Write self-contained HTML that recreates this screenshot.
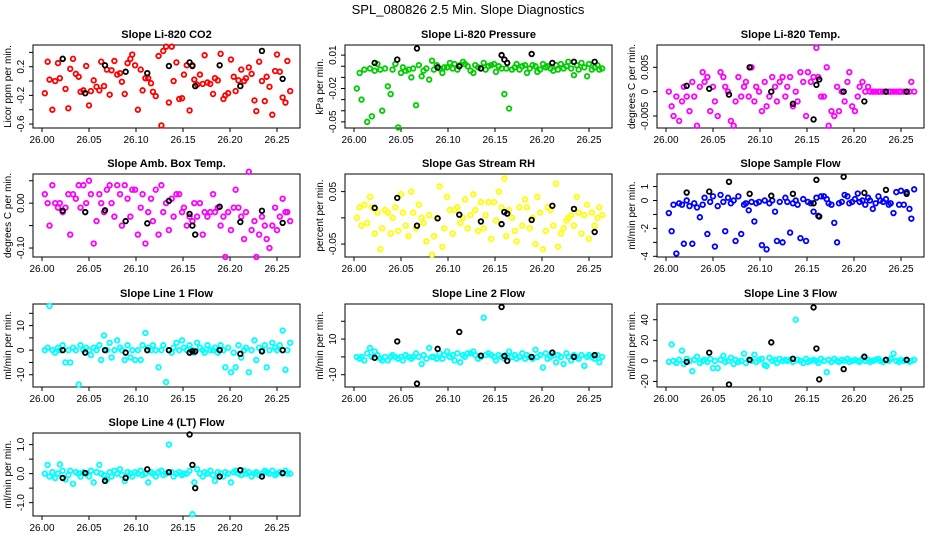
<!DOCTYPE html>
<html><head><meta charset="utf-8">
<style>
html,body{margin:0;padding:0;background:#fff;}
svg{display:block;font-family:"Liberation Sans",sans-serif;}
</style></head>
<body>
<svg id="chart" width="936" height="540" viewBox="0 0 936 540" xmlns="http://www.w3.org/2000/svg">
<rect width="936" height="540" fill="#fff"/>
<text x="468" y="14" text-anchor="middle" font-size="13">SPL_080826  2.5 Min. Slope Diagnostics</text>
</svg>
<script>
const times=[26.003,26.006,26.008,26.011,26.014,26.017,26.019,26.022,26.025,26.028,
26.030,26.033,26.036,26.039,26.041,26.044,26.047,26.050,26.052,26.055,
26.058,26.061,26.063,26.066,26.069,26.072,26.074,26.077,26.080,26.083,
26.085,26.088,26.091,26.094,26.096,26.099,26.102,26.105,26.107,26.110,
26.113,26.116,26.118,26.121,26.124,26.127,26.129,26.132,26.135,26.138,
26.140,26.143,26.146,26.149,26.151,26.154,26.157,26.160,26.162,26.165,
26.168,26.171,26.173,26.176,26.179,26.182,26.184,26.187,26.190,26.193,
26.195,26.198,26.201,26.204,26.206,26.209,26.212,26.215,26.217,26.220,
26.223,26.226,26.228,26.231,26.234,26.237,26.239,26.242,26.245,26.248,
26.250,26.253,26.256,26.259,26.261,26.264];
const blackTimes=[26.022,26.046,26.067,26.089,26.112,26.135,26.157,26.160,26.163,26.189,26.211,26.234,26.256];
const xTicks=[26.00,26.05,26.10,26.15,26.20,26.25];
const xTickLabels=["26.00","26.05","26.10","26.15","26.20","26.25"];

const co2=[-0.17,0.27,0.02,-0.4,0.0,0.25,0.04,0.31,-0.11,-0.38,0.17,0.31,0.1,0.06,-0.15,-0.13,0.21,-0.34,-0.14,0.01,-0.08,-0.13,0.27,-0.07,0.16,-0.19,0.15,0.28,0.09,0.11,-0.01,-0.18,0.25,0.31,0.37,0.22,-0.4,0.16,-0.13,0.04,0.04,-0.03,-0.15,-0.21,0.35,-0.62,0.42,0.48,-0.3,0.48,0.0,0.26,-0.25,-0.24,0.09,0.22,-0.41,0.22,0.02,-0.05,0.09,-0.04,0.36,-0.02,-0.04,-0.18,0.04,0.01,0.38,-0.25,-0.2,-0.17,0.3,0.06,-0.14,0.01,0.16,0.0,0.04,0.19,0.1,-0.27,-0.42,0.27,0.0,-0.28,0.06,-0.08,-0.47,0.14,0.37,0.13,-0.23,-0.3,0.28,-0.14];
const co2Black=[0.31,-0.17,0.22,0.13,0.11,0.21,0.26,0.21,-0.07,0.22,-0.07,0.42,0.03];
const pressure=[-0.02,-0.006,-0.03,-0.003,-0.05,-0.002,-0.045,-0.004,0.002,-0.003,-0.04,-0.002,-0.018,-0.025,-0.003,0.002,-0.055,-0.006,-0.001,-0.004,-0.003,-0.01,-0.002,-0.035,0.001,-0.009,-0.004,-0.002,-0.012,0.005,-0.003,0.001,-0.002,-0.006,-0.001,-0.001,0.003,-0.002,0.002,-0.003,0.001,0.004,0.002,0.0,-0.004,-0.006,0.001,-0.001,-0.002,0.003,-0.003,0.0,0.001,0.002,-0.005,0.0,-0.002,-0.025,-0.002,-0.038,-0.003,-0.001,0.002,-0.003,0.0,0.001,-0.006,-0.002,0.001,0.0,-0.005,-0.003,0.002,-0.001,0.0,-0.002,-0.004,0.001,-0.003,0.002,-0.002,0.0,0.004,-0.002,-0.008,0.001,-0.003,0.003,-0.001,-0.009,0.002,-0.003,-0.001,0.001,-0.003,-0.002];
const pressureBlack=[0.003,0.006,0.016,-0.001,0.0,-0.002,0.01,0.006,0.003,0.011,0.003,0.004,0.004];
const licorTemp=[0.0,-0.003,-0.005,-0.001,-0.006,-0.002,0.001,-0.001,-0.004,0.002,-0.001,-0.007,0.001,0.004,0.002,0.003,-0.004,0.001,-0.002,-0.005,0.004,0.003,0.001,0.0,-0.006,-0.007,-0.002,0.003,-0.001,0.001,0.002,-0.001,0.005,-0.002,0.001,0.0,-0.004,0.002,-0.003,-0.001,0.003,0.001,-0.002,0.002,0.003,-0.001,0.001,0.003,-0.003,0.0,-0.002,0.004,0.002,-0.005,0.004,0.002,0.003,0.009,0.003,-0.001,-0.001,0.005,-0.007,-0.004,-0.005,0.001,-0.004,0.0,-0.002,0.002,0.004,-0.003,-0.004,-0.001,0.001,0.002,0.0,0.001,0.0,0.0,0.0,0.0,0.0,0.0,0.0,0.0,0.0,0.0,0.0,0.0,0.0,0.0,0.0,0.0,0.002,0.0];
const licorTempBlack=[0.0012,0.0006,-0.0006,0.005,0.0,-0.0025,-0.0057,0.0014,0.0025,0.0,-0.002,0.0,0.0];
const boxTemp=[0.02,0.0,-0.05,0.04,0.0,-0.01,0.0,-0.02,-0.01,0.02,-0.07,0.02,0.01,0.04,-0.01,0.04,0.0,0.05,0.02,-0.09,-0.04,0.02,0.0,-0.02,0.03,0.04,0.0,-0.03,0.04,0.02,-0.05,0.04,0.01,-0.03,0.03,0.03,-0.07,-0.01,0.02,-0.09,-0.02,0.01,-0.04,0.03,-0.07,0.04,-0.02,0.0,-0.06,0.01,-0.03,0.02,0.02,-0.02,-0.01,-0.05,-0.03,-0.04,0.0,-0.03,0.0,-0.07,-0.02,-0.03,-0.02,0.02,-0.02,-0.01,-0.05,-0.03,-0.12,-0.02,-0.06,-0.01,0.03,-0.01,-0.03,-0.08,-0.02,0.07,-0.06,-0.04,-0.12,-0.07,-0.03,-0.05,-0.08,-0.1,-0.05,-0.01,-0.06,-0.03,0.01,-0.02,-0.02,-0.04];
const boxTempBlack=[-0.017,-0.02,-0.016,-0.04,-0.045,0.005,-0.024,-0.05,-0.07,-0.008,-0.042,-0.017,-0.044];
const gasRH=[0.0,0.02,-0.015,0.025,-0.01,0.04,0.02,-0.03,0.01,-0.06,-0.02,0.015,0.01,-0.03,0.0,0.02,-0.025,0.045,0.01,-0.015,-0.035,0.05,0.01,-0.02,0.025,0.0,-0.01,-0.045,0.005,-0.07,-0.035,0.0,0.06,-0.055,-0.02,0.04,0.015,-0.03,0.015,0.02,-0.01,0.0,0.035,-0.02,0.005,0.045,0.015,-0.025,0.03,-0.02,0.005,0.03,-0.04,0.03,-0.005,0.05,0.02,0.075,-0.035,0.015,0.0,-0.025,-0.045,0.02,-0.015,0.035,0.02,-0.02,0.0,-0.05,0.04,0.01,-0.06,-0.025,0.02,0.015,-0.015,0.065,-0.055,-0.03,-0.02,-0.005,0.0,0.005,-0.015,0.04,0.01,-0.03,0.005,0.025,-0.04,0.01,-0.015,0.0,0.02,0.005];
const gasRHBlack=[0.019,0.038,-0.015,-0.001,0.006,-0.007,-0.012,0.011,0.008,-0.004,0.023,0.017,-0.027];
const sampleFlow=[-0.9,-2.2,-0.3,-3.8,-0.2,-0.3,-3.1,0.0,-0.4,-3.1,-0.2,-0.5,-1.2,-0.3,0.2,-2.4,-0.1,0.3,-3.3,-0.4,0.4,-0.1,-2.2,0.2,-0.2,0.0,-2.9,0.3,-2.4,-0.3,-0.2,-0.7,-0.1,-1.5,-0.2,-0.1,-3.2,0.0,-3.5,-0.2,0.0,-0.8,-2.9,-0.1,-3.0,0.2,-0.1,-2.3,-0.2,0.0,-0.3,-2.7,0.1,-2.9,-0.1,-0.2,-0.8,0.2,-1.1,0.3,0.3,0.1,-0.2,-0.3,-1.6,-3.0,-0.2,-0.1,0.4,0.3,-0.2,-0.1,0.1,0.5,-0.1,0.0,-0.3,0.2,0.0,-0.6,-0.2,0.3,0.0,-0.1,0.1,-0.3,-0.2,-0.9,0.6,-0.3,0.7,-0.3,0.6,-0.6,-1.3,0.8];
const sampleFlowBlack=[0.57,0.64,1.34,0.48,0.34,0.48,-0.2,1.48,-1.15,1.7,0.55,0.76,0.48];
const line1=[0,1,18,0,-1,1,0,2,-5,0,-5,1,0,-14,2,0,1,0,-2,1,0,2,-4,6,0,3,-3,0,4,1,0,-4,2,-3,0,-4,0,-4,2,7,1,0,2,0,-7,0,2,-13,0,-1,1,3,0,4,1,0,2,0,-1,3,1,0,-1,2,0,0,1,-1,2,0,-7,1,-9,-1,-7,2,-3,0,1,-9,0,4,-4,1,0,2,-7,0,3,1,0,2,8,-8,0,3];
const line1Black=[0,-1,0,-1,0,0,-1,-0.5,-0.5,0,-1.5,-0.5,0];
const line2=[0,-1,0,-2,2,5,0,3,1,-1,-2,0,-2,0,1,0,-1,0,-2,1,0,-1,0,2,0,-4,1,-1,5,0,0,-1,2,-1,1,3,0,1,-2,2,-3,1,0,2,2,3,1,-1,0,22,1,2,1,0,-2,1,0,-1,1,3,0,1,-1,0,2,-1,1,0,-1,4,0,1,-6,2,-1,0,1,-3,1,0,-4,2,0,-2,1,0,-1,1,-5,0,1,0,-1,1,-3,0];
const line2Black=[-0.5,8.7,-15,4.5,14,0.7,28,0.5,-2.2,0,2.4,0,1];
const line3=[-1,16,0,-2,1,10,-3,2,0,-10,1,4,-2,0,1,-1,2,-7,0,-7,1,5,-1,0,3,-3,1,-1,0,7,-2,1,0,6,-1,1,2,-4,-5,3,0,1,-2,2,0,1,0,1,-1,40,1,0,-2,2,-1,0,1,0,-2,2,0,-11,1,-1,2,0,-1,1,0,2,-1,0,1,0,-1,2,0,1,-1,0,1,2,0,-1,1,0,2,7,0,-1,1,0,1,-1,0,1];
const line3Black=[-1,8,-23,1,18,2,52,12,-18,-8,4,1,1];
const line4=[0.0,0.3,-0.1,0.05,-0.15,0.0,0.32,0.1,-0.2,-0.05,0.1,-0.35,0.05,0.0,-0.1,0.05,0.0,-0.1,0.1,-0.3,0.05,0.3,0.0,-0.05,-0.2,0.05,-0.1,0.1,0.0,0.15,-0.05,-0.25,0.05,0.0,-0.1,0.05,0.0,0.1,-0.05,0.0,-0.3,0.05,0.0,-0.1,0.05,0.1,-0.05,0.0,1.0,0.05,-0.1,0.0,0.05,-0.05,0.0,0.0,0.1,-1.4,-0.3,0.15,0.0,-0.1,0.05,0.0,0.1,-0.05,-0.25,0.05,0.0,-0.1,0.05,0.0,-0.3,0.05,0.1,0.0,-0.05,0.1,0.0,0.05,-0.1,0.0,0.05,-0.05,0.0,0.1,0.05,0.0,0.1,-0.05,0.0,0.05,0.0,0.1,0.0,0.0];
const line4Black=[-0.15,0.02,-0.25,-0.15,0.15,0.05,1.35,0.3,-0.5,-0.1,0.12,-0.1,0.02];

const panelTitles=["Slope Li-820 CO2","Slope Li-820 Pressure","Slope Li-820 Temp.","Slope Amb. Box Temp.","Slope Gas Stream RH","Slope Sample Flow","Slope Line 1 Flow","Slope Line 2 Flow","Slope Line 3 Flow","Slope Line 4 (LT) Flow"];
const yTitles=["Licor ppm per min.","kPa per min.","degrees C per min.","degrees C per min.","percent per min.","ml/min per min.","ml/min per min.","ml/min per min.","ml/min per min.","ml/min per min."];
const yTicks=[[0.4,0.2,0,-0.2,-0.4,-0.6],[0.01,0,-0.01,-0.02,-0.03,-0.04,-0.05],[0.005,0,-0.005],[0.05,0,-0.05,-0.1],[0.05,0,-0.05],[1,0,-1,-2,-3,-4],[15,10,5,0,-5,-10],[20,10,0,-10],[40,20,0,-20],[1,0.5,0,-0.5,-1]];
const yTickLabels=[["","0.2","","-0.2","","-0.6"],["0.01","","","-0.02","","","-0.05"],["0.005","0","-0.005"],["","0.00","","-0.10"],["0.05","","-0.05"],["1","0","","-2","","-4"],["","10","","0","","-10"],["","10","","-10"],["40","20","0","-20"],["1.0","","0.0","","-1.0"]];
const yLimits=[[-0.655,0.503],[-0.0555,0.0191],[-0.00746,0.00958],[-0.12,0.065],[-0.0747,0.0836],[-4.05,1.9],[-15,18.8],[-16.9,29.7],[-25.4,55.3],[-1.46,1.40]];
const seriesValues=[co2,pressure,licorTemp,boxTemp,gasRH,sampleFlow,line1,line2,line3,line4];
const blackValues=[co2Black,pressureBlack,licorTempBlack,boxTempBlack,gasRHBlack,sampleFlowBlack,line1Black,line2Black,line3Black,line4Black];
const seriesColors=["#ff0000","#00cd00","#ff00ff","#ff00ff","#ffff00","#0000ff","#00ffff","#00ffff","#00ffff","#00ffff"];
const seriesKeys=["co2","pressure","licor-temp","box-temp","gas-rh","sample-flow","line1-flow","line2-flow","line3-flow","line4-flow"];

const NS="http://www.w3.org/2000/svg";
const svg=document.getElementById("chart");
const colLeft=[33,345,657];
const rowTop=[45,174,304,433];
const boxW=267, boxH=83;
const X0=26.0, X1=26.25;
function mk(tag,attrs,parent){const e=document.createElementNS(NS,tag);for(const k in attrs)e.setAttribute(k,attrs[k]);(parent||svg).appendChild(e);return e;}

for(let p=0;p<10;p++){
  const col=p%3,row=Math.floor(p/3);
  const L=colLeft[col],T=rowTop[row],R=L+boxW,B=T+boxH;
  const xs=v=>L+9+(v-X0)/(X1-X0)*235;
  const [ymin,ymax]=yLimits[p];
  const ys=v=>B-(v-ymin)/(ymax-ymin)*boxH;
  const g=mk("g",{});
  
  
  const t=mk("text",{x:L+boxW/2,y:T-7,"text-anchor":"middle","font-size":"11","font-weight":"bold"},g);
  
  
  t.textContent=panelTitles[p];
  const frame=mk("rect",{x:L,y:T,width:boxW,height:boxH,fill:"none",stroke:"#000","stroke-width":"1"},g);
  
  
  const xa=mk("g",{},g);
  
  
  mk("line",{x1:xs(xTicks[0]),x2:xs(xTicks[xTicks.length-1]),y1:B,y2:B,stroke:"#000"},xa);
  xTicks.forEach((v,i)=>{
    mk("line",{x1:xs(v),x2:xs(v),y1:B,y2:B+4,stroke:"#000"},xa);
    const tl=mk("text",{x:xs(v),y:B+15,"text-anchor":"middle","font-size":"10"},xa);
    
    
    tl.textContent=xTickLabels[i];
  });
  const ya=mk("g",{},g);
  
  
  const yt=yTicks[p];
  mk("line",{x1:L,x2:L,y1:ys(yt[0]),y2:ys(yt[yt.length-1]),stroke:"#000"},ya);
  yt.forEach((v,i)=>{
    mk("line",{x1:L-4,x2:L,y1:ys(v),y2:ys(v),stroke:"#000"},ya);
    if(yTickLabels[p][i]){
      const yl=mk("text",{x:0,y:0,"text-anchor":"middle","font-size":"10",transform:`translate(${L-9},${ys(v)}) rotate(-90)`},ya);
      
      
      yl.textContent=yTickLabels[p][i];
    }
  });
  const ytl=mk("text",{x:0,y:0,"text-anchor":"middle","font-size":"10",transform:`translate(${L-22},${T+boxH/2}) rotate(-90)`},g);
  
  
  ytl.textContent=yTitles[p];
  const vals=seriesValues[p];
  const n=Math.min(vals.length,times.length);
  for(let i=0;i<n;i++){
    const c=mk("circle",{cx:xs(times[i]),cy:ys(vals[i]),r:2.3,fill:"none",stroke:seriesColors[p],"stroke-width":"1.8"},g);
    
    
  }
  const bv=blackValues[p];
  for(let i=0;i<Math.min(bv.length,blackTimes.length);i++){
    const c=mk("circle",{cx:xs(blackTimes[i]),cy:ys(bv[i]),r:2.3,fill:"none",stroke:"#000","stroke-width":"1.8"},g);
    
    
  }
}
</script>
</body></html>
